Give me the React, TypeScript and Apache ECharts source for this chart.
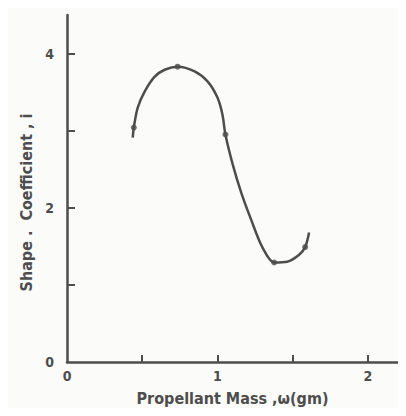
import React, { useEffect, useRef } from "react";
import * as echarts from "echarts";

// Traced curve of shape coefficient against propellant mass
const curveMass = [0.437, 0.444, 0.47, 0.517, 0.583, 0.649, 0.735, 0.848, 0.934, 1.0, 1.033, 1.053, 1.099, 1.159, 1.225, 1.298, 1.377, 1.464, 1.543, 1.583, 1.609];
const curveCoef = [2.91, 3.04, 3.3, 3.51, 3.7, 3.79, 3.83, 3.77, 3.64, 3.43, 3.21, 2.95, 2.58, 2.19, 1.84, 1.49, 1.29, 1.3, 1.39, 1.49, 1.68];

// Measured points marked on the curve
const pointMass = [0.444, 0.735, 1.053, 1.377, 1.583];
const pointCoef = [3.04, 3.83, 2.95, 1.29, 1.49];

const xTicks = [0.5, 1, 1.5, 2];
const xLabels = [0, 1, 2];
const yTicks = [1, 2, 3, 4];
const yLabels = [0, 2, 4];

const INK = "#4d4d4d";
const FONT = "'DejaVu Sans Condensed', 'DejaVu Sans', sans-serif";

export default function App() {
  const ref = useRef<HTMLDivElement>(null);

  useEffect(() => {
    if (!ref.current) return;
    const chart = echarts.init(ref.current, null, { renderer: "svg" });
    chart.setOption({
      animation: false,
      backgroundColor: "#fbfbf9",
      grid: { left: 67, right: 8, top: 15, bottom: 54, containLabel: false },
      xAxis: {
        type: "value",
        min: 0,
        max: 2.2,
        name: "Propellant Mass ,ω(gm)",
        nameLocation: "middle",
        nameGap: 28,
        nameTextStyle: { color: INK, fontFamily: FONT, fontSize: 16, fontWeight: "bold" },
        axisLine: { lineStyle: { color: INK, width: 2.5 } },
        axisTick: { inside: true, length: 7, customValues: xTicks, lineStyle: { color: INK, width: 2 } },
        axisLabel: { customValues: xLabels, color: INK, fontFamily: FONT, fontSize: 14, fontWeight: "bold", margin: 7 },
        splitLine: { show: false },
      },
      yAxis: {
        type: "value",
        min: 0,
        max: 4.5,
        name: "Shape .  Coefficient , i",
        nameLocation: "middle",
        nameGap: 31,
        nameTextStyle: { color: INK, fontFamily: FONT, fontSize: 16, fontWeight: "bold", padding: [0, 28, 0, 0] },
        axisLine: { lineStyle: { color: INK, width: 2.5 } },
        axisTick: { inside: true, length: 8, customValues: yTicks, lineStyle: { color: INK, width: 2 } },
        axisLabel: { customValues: yLabels, color: INK, fontFamily: FONT, fontSize: 14, fontWeight: "bold", margin: 13 },
        splitLine: { show: false },
      },
      series: [
        {
          type: "line",
          data: curveMass.map((m, i) => [m, curveCoef[i]]),
          smooth: 0.3,
          showSymbol: false,
          lineStyle: { color: INK, width: 2.5 },
        },
        {
          type: "scatter",
          data: pointMass.map((m, i) => [m, pointCoef[i]]),
          symbol: "circle",
          symbolSize: 6,
          itemStyle: { color: INK },
        },
      ],
    });
    return () => chart.dispose();
  }, []);

  return <div ref={ref} style={{ width: 406, height: 416, margin: -8 }} />;
}
